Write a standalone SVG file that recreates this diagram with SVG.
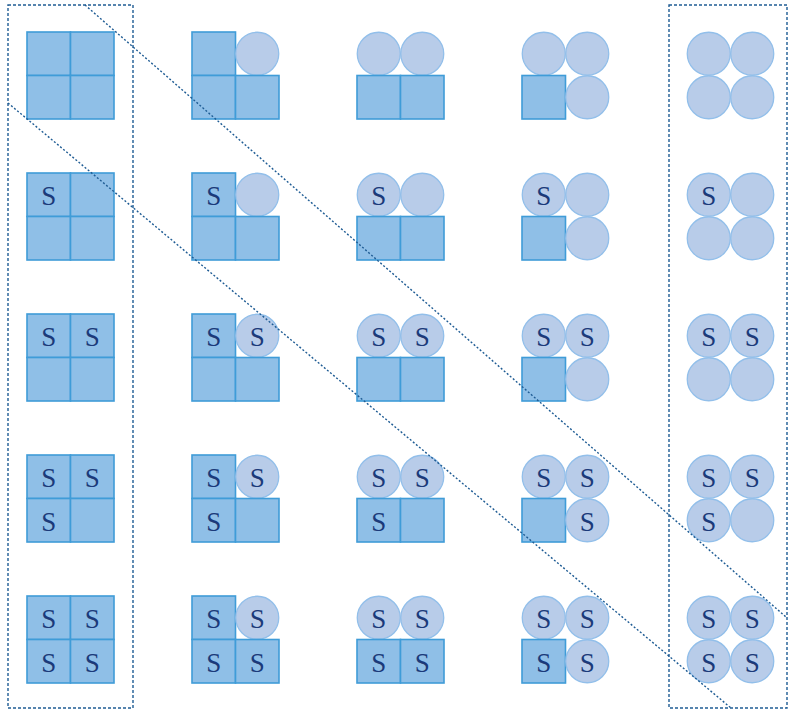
<svg xmlns="http://www.w3.org/2000/svg" width="788" height="711" viewBox="0 0 788 711">
<style>
.sq{fill:#8fbfe7;stroke:#3f9cd8;stroke-width:1.6}
.ci{fill:#b8cce9;stroke:#92bfea;stroke-width:1.3}
.s{font-family:"Liberation Serif","Times New Roman",serif;font-size:27px;fill:#1b3a7a;text-anchor:middle}
.frame{fill:none;stroke:#1f5c94;stroke-width:1.4;stroke-dasharray:3 2}
.diag{fill:none;stroke:#1f5c94;stroke-width:1.4;stroke-dasharray:2 2}
</style>
<defs>
<rect id="Q" class="sq" width="43.5" height="43.5"/>
<circle id="C" class="ci" cx="21.75" cy="21.75" r="21.5"/>
</defs>
<g id="frames">
<rect class="frame" x="8" y="5" width="125" height="703"/>
<rect class="frame" x="669" y="5" width="118" height="703"/>
</g>
<g id="nodes">
<!-- row 0 -->
<g id="r0c0" transform="translate(27,32)"><use href="#Q"/><use href="#Q" x="43.5"/><use href="#Q" y="43.5"/><use href="#Q" x="43.5" y="43.5"/></g>
<g id="r0c1" transform="translate(192,32)"><use href="#Q"/><use href="#C" x="43.5"/><use href="#Q" y="43.5"/><use href="#Q" x="43.5" y="43.5"/></g>
<g id="r0c2" transform="translate(357,32)"><use href="#C"/><use href="#C" x="43.5"/><use href="#Q" y="43.5"/><use href="#Q" x="43.5" y="43.5"/></g>
<g id="r0c3" transform="translate(522,32)"><use href="#C"/><use href="#C" x="43.5"/><use href="#Q" y="43.5"/><use href="#C" x="43.5" y="43.5"/></g>
<g id="r0c4" transform="translate(687,32)"><use href="#C"/><use href="#C" x="43.5"/><use href="#C" y="43.5"/><use href="#C" x="43.5" y="43.5"/></g>
<!-- row 1 -->
<g id="r1c0" transform="translate(27,173)"><use href="#Q"/><use href="#Q" x="43.5"/><use href="#Q" y="43.5"/><use href="#Q" x="43.5" y="43.5"/><text class="s" x="21.75" y="31.5">S</text></g>
<g id="r1c1" transform="translate(192,173)"><use href="#Q"/><use href="#C" x="43.5"/><use href="#Q" y="43.5"/><use href="#Q" x="43.5" y="43.5"/><text class="s" x="21.75" y="31.5">S</text></g>
<g id="r1c2" transform="translate(357,173)"><use href="#C"/><use href="#C" x="43.5"/><use href="#Q" y="43.5"/><use href="#Q" x="43.5" y="43.5"/><text class="s" x="21.75" y="31.5">S</text></g>
<g id="r1c3" transform="translate(522,173)"><use href="#C"/><use href="#C" x="43.5"/><use href="#Q" y="43.5"/><use href="#C" x="43.5" y="43.5"/><text class="s" x="21.75" y="31.5">S</text></g>
<g id="r1c4" transform="translate(687,173)"><use href="#C"/><use href="#C" x="43.5"/><use href="#C" y="43.5"/><use href="#C" x="43.5" y="43.5"/><text class="s" x="21.75" y="31.5">S</text></g>
<!-- row 2 -->
<g id="r2c0" transform="translate(27,314)"><use href="#Q"/><use href="#Q" x="43.5"/><use href="#Q" y="43.5"/><use href="#Q" x="43.5" y="43.5"/><text class="s" x="21.75" y="31.5">S</text><text class="s" x="65.25" y="31.5">S</text></g>
<g id="r2c1" transform="translate(192,314)"><use href="#Q"/><use href="#C" x="43.5"/><use href="#Q" y="43.5"/><use href="#Q" x="43.5" y="43.5"/><text class="s" x="21.75" y="31.5">S</text><text class="s" x="65.25" y="31.5">S</text></g>
<g id="r2c2" transform="translate(357,314)"><use href="#C"/><use href="#C" x="43.5"/><use href="#Q" y="43.5"/><use href="#Q" x="43.5" y="43.5"/><text class="s" x="21.75" y="31.5">S</text><text class="s" x="65.25" y="31.5">S</text></g>
<g id="r2c3" transform="translate(522,314)"><use href="#C"/><use href="#C" x="43.5"/><use href="#Q" y="43.5"/><use href="#C" x="43.5" y="43.5"/><text class="s" x="21.75" y="31.5">S</text><text class="s" x="65.25" y="31.5">S</text></g>
<g id="r2c4" transform="translate(687,314)"><use href="#C"/><use href="#C" x="43.5"/><use href="#C" y="43.5"/><use href="#C" x="43.5" y="43.5"/><text class="s" x="21.75" y="31.5">S</text><text class="s" x="65.25" y="31.5">S</text></g>
<!-- row 3 -->
<g id="r3c0" transform="translate(27,455)"><use href="#Q"/><use href="#Q" x="43.5"/><use href="#Q" y="43.5"/><use href="#Q" x="43.5" y="43.5"/><text class="s" x="21.75" y="31.5">S</text><text class="s" x="65.25" y="31.5">S</text><text class="s" x="21.75" y="75.5">S</text></g>
<g id="r3c1" transform="translate(192,455)"><use href="#Q"/><use href="#C" x="43.5"/><use href="#Q" y="43.5"/><use href="#Q" x="43.5" y="43.5"/><text class="s" x="21.75" y="31.5">S</text><text class="s" x="65.25" y="31.5">S</text><text class="s" x="21.75" y="75.5">S</text></g>
<g id="r3c2" transform="translate(357,455)"><use href="#C"/><use href="#C" x="43.5"/><use href="#Q" y="43.5"/><use href="#Q" x="43.5" y="43.5"/><text class="s" x="21.75" y="31.5">S</text><text class="s" x="65.25" y="31.5">S</text><text class="s" x="21.75" y="75.5">S</text></g>
<g id="r3c3" transform="translate(522,455)"><use href="#C"/><use href="#C" x="43.5"/><use href="#Q" y="43.5"/><use href="#C" x="43.5" y="43.5"/><text class="s" x="21.75" y="31.5">S</text><text class="s" x="65.25" y="31.5">S</text><text class="s" x="65.25" y="75.5">S</text></g>
<g id="r3c4" transform="translate(687,455)"><use href="#C"/><use href="#C" x="43.5"/><use href="#C" y="43.5"/><use href="#C" x="43.5" y="43.5"/><text class="s" x="21.75" y="31.5">S</text><text class="s" x="65.25" y="31.5">S</text><text class="s" x="21.75" y="75.5">S</text></g>
<!-- row 4 -->
<g id="r4c0" transform="translate(27,596)"><use href="#Q"/><use href="#Q" x="43.5"/><use href="#Q" y="43.5"/><use href="#Q" x="43.5" y="43.5"/><text class="s" x="21.75" y="31.5">S</text><text class="s" x="65.25" y="31.5">S</text><text class="s" x="21.75" y="75.5">S</text><text class="s" x="65.25" y="75.5">S</text></g>
<g id="r4c1" transform="translate(192,596)"><use href="#Q"/><use href="#C" x="43.5"/><use href="#Q" y="43.5"/><use href="#Q" x="43.5" y="43.5"/><text class="s" x="21.75" y="31.5">S</text><text class="s" x="65.25" y="31.5">S</text><text class="s" x="21.75" y="75.5">S</text><text class="s" x="65.25" y="75.5">S</text></g>
<g id="r4c2" transform="translate(357,596)"><use href="#C"/><use href="#C" x="43.5"/><use href="#Q" y="43.5"/><use href="#Q" x="43.5" y="43.5"/><text class="s" x="21.75" y="31.5">S</text><text class="s" x="65.25" y="31.5">S</text><text class="s" x="21.75" y="75.5">S</text><text class="s" x="65.25" y="75.5">S</text></g>
<g id="r4c3" transform="translate(522,596)"><use href="#C"/><use href="#C" x="43.5"/><use href="#Q" y="43.5"/><use href="#C" x="43.5" y="43.5"/><text class="s" x="21.75" y="31.5">S</text><text class="s" x="65.25" y="31.5">S</text><text class="s" x="21.75" y="75.5">S</text><text class="s" x="65.25" y="75.5">S</text></g>
<g id="r4c4" transform="translate(687,596)"><use href="#C"/><use href="#C" x="43.5"/><use href="#C" y="43.5"/><use href="#C" x="43.5" y="43.5"/><text class="s" x="21.75" y="31.5">S</text><text class="s" x="65.25" y="31.5">S</text><text class="s" x="21.75" y="75.5">S</text><text class="s" x="65.25" y="75.5">S</text></g>
</g>
<g id="connectors">
<line class="diag" x1="85" y1="5" x2="786" y2="617"/>
<line class="diag" x1="8" y1="103" x2="731" y2="708"/>
</g>
</svg>
